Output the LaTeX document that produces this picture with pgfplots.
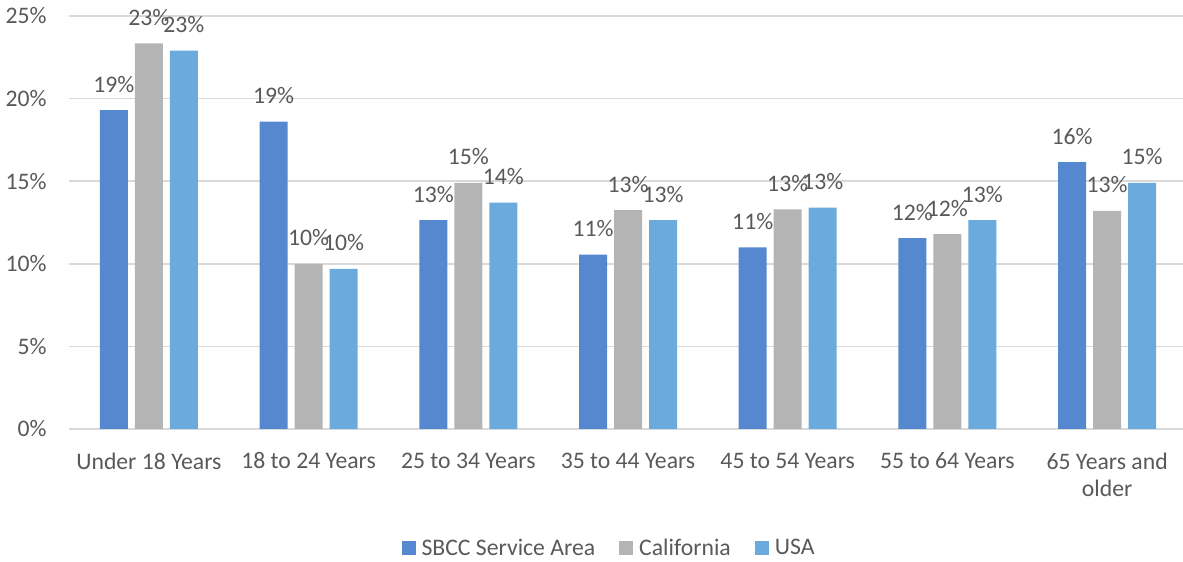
\documentclass[border=0pt]{standalone}
\usepackage{fontspec}
\setmainfont{Carlito}
\usepackage{pgfplots}
\pgfplotsset{compat=1.18}
\definecolor{c1}{RGB}{85,136,206}
\definecolor{c2}{RGB}{180,180,180}
\definecolor{c3}{RGB}{106,170,220}
\definecolor{txt}{RGB}{89,89,89}
\definecolor{grd}{RGB}{217,217,217}
\newcommand{\ff}{\fontsize{23.7}{27}\selectfont}
\begin{document}
\begin{tikzpicture}
\begin{axis}[
  at={(69pt,133pt)}, anchor=south west,
  scale only axis, width=1118pt, height=413pt,
  xmin=-0.5, xmax=6.5, ymin=0, ymax=25,
  ybar=7pt, bar width=28pt,
  /pgf/number format/assume math mode=true,
  axis line style={draw=none}, tick style={draw=none},
  ymajorgrids, grid style={grd, line width=1.6pt},
  ytick={0,5,...,25},
  yticklabel={\pgfmathprintnumber{\tick}\%},
  yticklabel style={font=\ff, text=txt, xshift=-19pt},
  xtick={0,...,6},
  xticklabels={Under 18 Years, 18 to 24 Years, 25 to 34 Years, 35 to 44 Years, 45 to 54 Years, 55 to 64 Years, {65 Years and\\older}},
  xticklabel style={font=\ff, text=txt, align=center, yshift=-16pt},
  nodes near coords={\pgfmathprintnumber[fixed,precision=0]{\pgfplotspointmeta}\%},
  nodes near coords style={font=\ff, text=txt, anchor=base, yshift=18pt, inner sep=0pt},
  clip=false,
  legend columns=3,
  legend style={draw=none, fill=none, font=\ff, text=txt, at={(0.483,-0.288)}, anchor=center,
    /tikz/every odd column/.append style={column sep=4pt},
    /tikz/every even column/.append style={column sep=22pt}},
  legend image code/.code={\fill[#1] (0pt,-7pt) rectangle (14pt,7pt);},
]
\addplot[fill=c1, draw=none] coordinates {(0,19.3) (1,18.6) (2,12.65) (3,10.55) (4,11.0) (5,11.55) (6,16.15)};
\addplot[fill=c2, draw=none] coordinates {(0,23.35) (1,10.0) (2,14.9) (3,13.25) (4,13.3) (5,11.8) (6,13.2)};
\addplot[fill=c3, draw=none] coordinates {(0,22.9) (1,9.7) (2,13.7) (3,12.65) (4,13.4) (5,12.65) (6,14.9)};
\legend{SBCC Service Area, California, USA}
\end{axis}
\pgfresetboundingbox
\useasboundingbox (0,0) rectangle (1183pt,562pt);
\end{tikzpicture}
\end{document}
